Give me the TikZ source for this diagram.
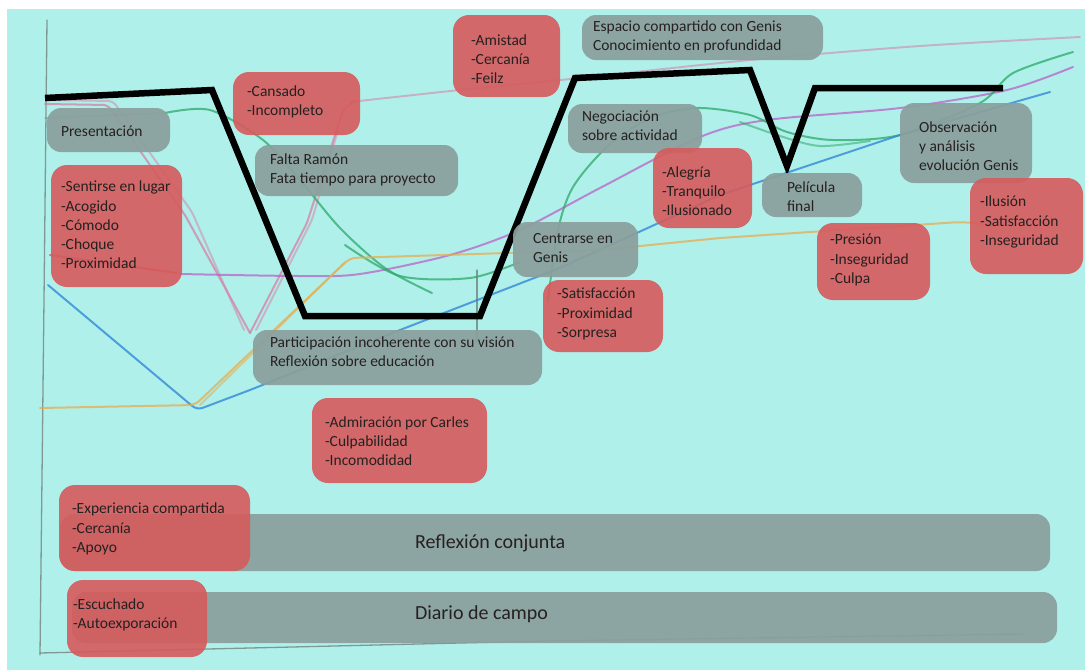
\documentclass[tikz,border=0pt]{standalone}
\usepackage{fontspec}
\setmainfont{Carlito}
\definecolor{paper}{RGB}{176,240,234}
\definecolor{boxgray}{RGB}{138,160,157}
\definecolor{boxred}{RGB}{214,90,92}
\definecolor{ink}{RGB}{38,32,32}
\definecolor{pinkc}{RGB}{214,128,165}
\definecolor{redc}{RGB}{225,70,90}
\definecolor{purplec}{RGB}{185,100,200}
\definecolor{greenc}{RGB}{45,170,105}
\definecolor{bluec}{RGB}{45,130,215}
\definecolor{orangec}{RGB}{232,172,78}
\definecolor{pencil}{RGB}{105,115,110}
\begin{document}
\begin{tikzpicture}[x=1pt,y=-1pt,
  every node/.style={inner sep=0pt,outer sep=0pt},
  gbox/.style={fill=boxgray,fill opacity=0.93,rounded corners=14pt,anchor=north west},
  rbox/.style={fill=boxred,fill opacity=0.9,rounded corners=16pt,anchor=north west},
  lbl/.style={anchor=west,align=left,text=ink,font=\fontsize{15.5}{19.3}\selectfont},
  big/.style={anchor=west,text=ink,font=\fontsize{20}{24}\selectfont},
  crayon/.style={line width=2pt,draw opacity=0.75,line cap=round,line join=round},
  graphite/.style={draw=pencil,line width=1.3pt,draw opacity=0.7,line cap=round}
]
\useasboundingbox (0,0) rectangle (1088,670);
% sheet of paper
\fill[white] (0,0) rectangle (1088,670);
\fill[paper] (7,9) rectangle (1085,670);

% pencil axes
\draw[graphite] (47,20) -- (44,300) -- (40,655);
\draw[graphite] (40,653) -- (544,641) -- (1025,634);
\draw[graphite] (477,270) -- (477,342);
\draw[graphite,draw opacity=0.5] (45,118) -- (165,113);

% crayon curves
\draw[crayon,pinkc,rounded corners=5pt] (45,104) -- (108,105) -- (185,215) -- (250,333);
\draw[crayon,pinkc,draw opacity=0.5,rounded corners=5pt] (50,100) -- (113,101) -- (192,212) -- (244,330);
\draw[crayon,pinkc,rounded corners=5pt] (250,333) -- (307,223) -- (343,110) -- (355,100);
\draw[crayon,pinkc,draw opacity=0.5,rounded corners=5pt] (256,330) -- (312,220) -- (338,130);
\draw[crayon,pinkc,draw opacity=0.55] plot[smooth,tension=0.5] coordinates {(350,102) (460,90) (580,78) (750,60) (920,46) (1080,37)};
\draw[crayon,redc] (50,255) -- (177,273);
\draw[crayon,purplec] plot[smooth,tension=0.5] coordinates {(180,274) (300,276) (360,274) (450,255) (520,230) (600,188) (700,137) (767,120) (900,108) (1007,90) (1073,67)};
\draw[crayon,greenc] plot[smooth,tension=0.5] coordinates {(165,113) (210,110) (263,140) (300,180) (340,228) (385,268) (432,293)};
\draw[crayon,greenc] plot[smooth,tension=0.5] coordinates {(345,245) (400,276) (470,278) (520,262)};
\draw[crayon,greenc] plot[smooth,tension=0.5] coordinates {(548,300) (558,230) (573,187) (607,147) (650,118) (697,108) (750,115) (787,132) (833,140) (900,135) (980,103) (1013,73) (1073,52)};
\draw[crayon,greenc,draw opacity=0.55] plot[smooth,tension=0.5] coordinates {(740,122) (780,136) (820,146) (870,141)};
\draw[crayon,bluec,rounded corners=6pt] (48,285) -- (197,410) -- (250,390) -- (400,330) -- (560,268) -- (720,195) -- (900,135) -- (1050,92);
\draw[crayon,orangec,rounded corners=6pt] (40,408) -- (195,405) -- (350,258) -- (600,250) -- (720,238) -- (960,222) -- (1000,225);
\draw[crayon,orangec,draw opacity=0.55] (200,405) -- (345,262);

% black profile line
\draw[line width=6.5pt,line join=miter] (45,98) -- (212,90) -- (305,316) -- (480,316) -- (575,78) -- (750,70) -- (787,166) -- (815,88) -- (1003,88);

% gray event boxes
\node[gbox,minimum width=123pt,minimum height=44pt] (pres) at (47,108) {};
\node[gbox,minimum width=203pt,minimum height=51pt] (falta) at (255,145) {};
\node[gbox,minimum width=241pt,minimum height=45pt] (esp) at (582,15) {};
\node[gbox,minimum width=134pt,minimum height=49pt] (nego) at (568,104) {};
\node[gbox,minimum width=132pt,minimum height=80pt] (obs) at (900,103) {};
\node[gbox,minimum width=100pt,minimum height=44pt] (peli) at (762,173) {};
\node[gbox,minimum width=125pt,minimum height=55pt] (centr) at (513,222) {};
\node[gbox,minimum width=289pt,minimum height=55pt] (parti) at (253,330) {};
\node[gbox,minimum width=990pt,minimum height=57pt] (refl) at (60,514) {};
\node[gbox,minimum width=985pt,minimum height=51pt] (diario) at (72,592) {};

% red feeling boxes
\node[rbox,minimum width=131pt,minimum height=122pt] (sent) at (51,165) {};
\node[rbox,minimum width=127pt,minimum height=63pt] (cans) at (233,72) {};
\node[rbox,minimum width=107pt,minimum height=82pt] (amis) at (453,15) {};
\node[rbox,minimum width=99pt,minimum height=80pt] (aleg) at (653,148) {};
\node[rbox,minimum width=120pt,minimum height=72pt] (satis) at (543,280) {};
\node[rbox,minimum width=113pt,minimum height=77pt] (pres2) at (817,223) {};
\node[rbox,minimum width=113pt,minimum height=96pt] (ilus) at (970,178) {};
\node[rbox,minimum width=175pt,minimum height=85pt] (admi) at (312,398) {};
\node[rbox,minimum width=191pt,minimum height=86pt] (expe) at (59,485) {};
\node[rbox,minimum width=140pt,minimum height=77pt] (escu) at (67,580) {};

% labels
\node[lbl] (presT) at (61,131) {Presentación};
\node[lbl] (faltaT) at (270,170) {Falta Ramón\\Fata tiempo para proyecto};
\node[lbl] (espT) at (593,37) {Espacio compartido con Genis\\Conocimiento en profundidad};
\node[lbl] (negoT) at (582,126) {Negociación\\sobre actividad};
\node[lbl] (obsT) at (919,146) {Observación\\y análisis\\evolución Genis};
\node[lbl] (peliT) at (787,197) {Película\\final};
\node[lbl] (centrT) at (533,248) {Centrarse en\\Genis};
\node[lbl] (partiT) at (270,352) {Participación incoherente con su visión\\Reflexión sobre educación};
\node[big] (reflT) at (415,543) {Reflexión conjunta};
\node[big] (diarioT) at (415,614) {Diario de campo};

\node[lbl] (sentT) at (61,225) {-Sentirse en lugar\\-Acogido\\-Cómodo\\-Choque\\-Proximidad};
\node[lbl] (cansT) at (247,102) {-Cansado\\-Incompleto};
\node[lbl] (amisT) at (471,59) {-Amistad\\-Cercanía\\-Feilz};
\node[lbl] (alegT) at (662,191) {-Alegría\\-Tranquilo\\-Ilusionado};
\node[lbl] (satisT) at (557,314) {-Satisfacción\\-Proximidad\\-Sorpresa};
\node[lbl] (pres2T) at (830,260) {-Presión\\-Inseguridad\\-Culpa};
\node[lbl] (ilusT) at (980,222) {-Ilusión\\-Satisfacción\\-Inseguridad};
\node[lbl] (admiT) at (325,441) {-Admiración por Carles\\-Culpabilidad\\-Incomodidad};
\node[lbl] (expeT) at (72,529) {-Experiencia compartida\\-Cercanía\\-Apoyo};
\node[lbl] (escuT) at (73,615) {-Escuchado\\-Autoexporación};
\end{tikzpicture}
\end{document}
